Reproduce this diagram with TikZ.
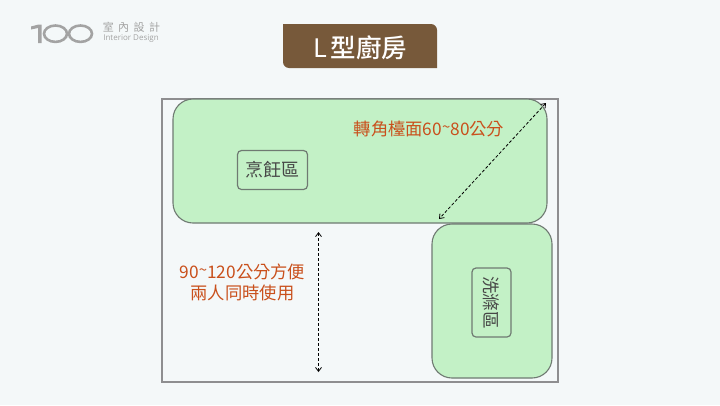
\documentclass[tikz,border=0pt]{standalone}
\usepackage{fontspec}
\setmainfont{Noto Sans CJK TC}
\newfontfamily\latinfont{Open Sans}
\definecolor{bgc}{HTML}{F4F8F9}
\definecolor{brownc}{HTML}{77593A}
\definecolor{greenc}{HTML}{C3F1C6}
\definecolor{linec}{HTML}{6F7A72}
\definecolor{framec}{HTML}{8E8E90}
\definecolor{orangec}{HTML}{C9501C}
\definecolor{logoc}{HTML}{A3A3A3}
\usetikzlibrary{arrows.meta}
\newcommand{\hightilde}{\raisebox{3pt}{\fontsize{15pt}{15pt}\selectfont\textasciitilde}}
\tikzset{
  counter/.style={draw=linec,fill=greenc,line width=1.1pt,rounded corners=#1},
  zonebox/.style={draw=linec,line width=1.2pt,rounded corners=4pt,inner sep=0pt,align=center,text=black!72,font=\fontsize{18pt}{20pt}\selectfont},
  note/.style={text=orangec,align=center,inner sep=0pt,font=\fontsize{17.3pt}{21.5pt}\selectfont},
  measure/.style={densely dashed,line width=.8pt,black,{Straight Barb[length=4pt,width=6pt]}-{Straight Barb[length=4pt,width=6pt]}},
}
\begin{document}
\begin{tikzpicture}[x=1pt,y=-1pt]
\useasboundingbox (0,0) rectangle (720,405);
\fill[bgc] (0,0) rectangle (720,405);
% logo
\fill[logoc] (31,26.5) -- (38.5,24.5) -- (41.5,24.5) -- (41.5,43) -- (38,43) -- (38,28) -- (31,29.5) -- cycle;
\draw[logoc,line width=2.6pt] (55.5,33.7) ellipse[x radius=11.5,y radius=8.2];
\draw[logoc,line width=2.6pt] (80.5,33.7) ellipse[x radius=11.5,y radius=8.2];
\node[text=logoc,inner sep=0pt] (logozh) at (131.5,27.5) {\fontsize{11pt}{12pt}\selectfont 室\hspace{4.5pt}內\hspace{4.5pt}設\hspace{4.5pt}計};
\node[text=logoc,inner sep=0pt] (logoen) at (131,38.5) {\latinfont\fontsize{8pt}{9pt}\selectfont Interior Design};
% title
\fill[brownc] (283,24) -- (431,24) .. controls (434.3,24) and (437,26.7) .. (437,30) -- (437,68) -- (289,68) .. controls (285.7,68) and (283,65.3) .. (283,62) -- cycle;
\node[text=white,inner sep=0pt,font=\fontsize{25.5pt}{27pt}\selectfont] (title) at (360.5,48) {L\hspace{3pt}\fontspec{Noto Sans CJK TC Medium}型廚房};
% frame
\draw[framec,line width=1.3pt] (162,99) rectangle (558,382);
% counters
\draw[counter=20pt] (173,99) rectangle (547,223);
\draw[counter=20pt] (432,224) rectangle (552,378);
\node[zonebox,minimum width=70pt,minimum height=39pt] (cook) at (272.5,170) {\raisebox{-2pt}{烹飪區}};
\node[zonebox,minimum width=39pt,minimum height=69pt] (wash) at (491.5,302.5) {\rotatebox{-90}{\fontsize{17.5pt}{19pt}\selectfont 洗滌區}};
\node[note] (corner) at (429,129) {轉角檯面60\hightilde 80公分};
\node[note] (aisle) at (242.5,282.5) {90\hightilde 120公分方便\\兩人同時使用};
\coordinate (d1) at (546,103);
\coordinate (d2) at (439,219);
\coordinate (v1) at (318.5,232);
\coordinate (v2) at (318.5,372);
\draw[measure] (d1) -- (d2);
\draw[measure] (v1) -- (v2);
\end{tikzpicture}
\end{document}
